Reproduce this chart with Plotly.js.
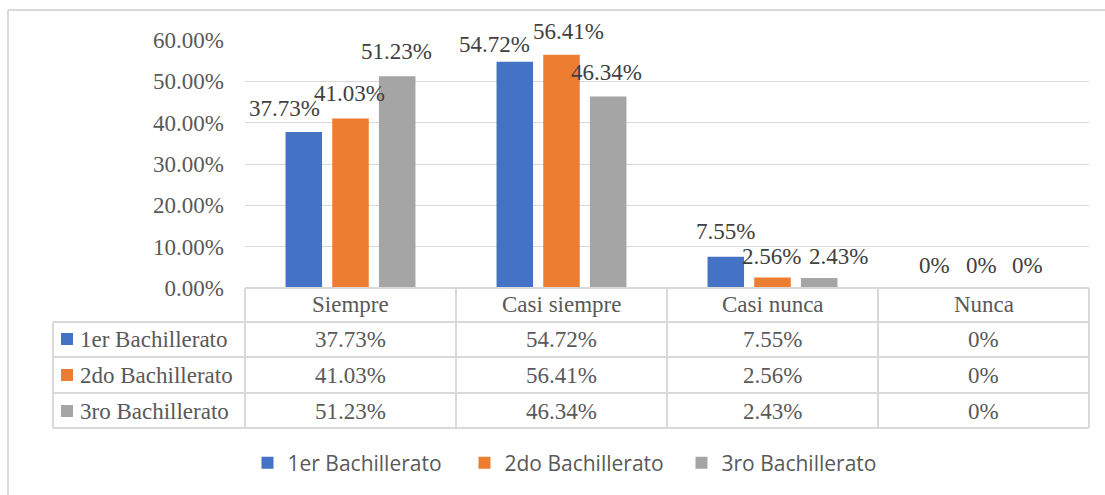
<!DOCTYPE html>
<html>
<head>
<meta charset="utf-8">
<script src="https://cdn.plot.ly/plotly-3.0.1.min.js"></script>
<style>
html,body{margin:0;padding:0;background:#fff;}
#chart{width:1105px;height:495px;}
</style>
</head>
<body>
<div id="chart"></div>
<script>
// ---- data ----
const categories = ["Siempre", "Casi siempre", "Casi nunca", "Nunca"];
const seriesNames = ["1er Bachillerato", "2do Bachillerato", "3ro Bachillerato"];
const primero = [0.3773, 0.5472, 0.0755, 0];
const segundo = [0.4103, 0.5641, 0.0256, 0];
const tercero = [0.5123, 0.4634, 0.0243, 0];
const yTickValues = [0, 0.1, 0.2, 0.3, 0.4, 0.5, 0.6];

// ---- styles ----
const colors = ["#4472C4", "#ED7D31", "#A5A5A5"];
const seriesValues = [primero, segundo, tercero];
const W = 1105, H = 495;
const L = 245, R = 1089, T = 40, B = 288;
const serif = "Liberation Serif";
const lineCol = "#D9D9D9";
// label offsets (px) to mimic Excel's label placement
const slotPx = 46.75;
const labelDx = [[-19, -20, 0, -2], [-1, 7, -1, -2], [-1, -2, 19, -3]];
const labelDy = [[24, 17, 25, 23], [25, 23, 21, 23], [25, 24, 21, 23]];

function px(x) { return (x - L) / (R - L); }
function py(y) { return (B - y) / (B - T); }
function fmt(v) { return v === 0 ? "0%" : (v * 100).toFixed(2) + "%"; }

const traces = seriesValues.map((vals, i) => ({
  type: "bar",
  name: seriesNames[i],
  x: categories,
  y: vals,
  marker: { color: colors[i] },
  hoverinfo: "skip"
}));

const annotations = [];
const shapes = [];

// data labels
seriesValues.forEach((vals, s) => {
  vals.forEach((v, c) => {
    annotations.push({
      x: categories[c], y: v, xref: "x", yref: "y",
      text: fmt(v), showarrow: false,
      xanchor: "center", yanchor: "middle",
      xshift: (s - 1) * slotPx + labelDx[s][c],
      yshift: labelDy[s][c],
      font: { family: serif, size: 23, color: "#404040" }
    });
  });
});

// table geometry (px)
const rowLines = [322, 357, 393, 428];
const rowCenters = [339, 375, 411];
const headerCenter = 304;
const tableLeft = 53;

// horizontal lines
shapes.push({ type: "line", xref: "paper", yref: "paper", x0: 0, x1: 1, y0: py(B), y1: py(B), line: { color: lineCol, width: 2 } });
rowLines.forEach(y => shapes.push({ type: "line", xref: "paper", yref: "paper", x0: px(tableLeft), x1: 1, y0: py(y), y1: py(y), line: { color: lineCol, width: 2 } }));
// vertical lines
for (let k = 0; k <= categories.length; k++) {
  const xp = k / categories.length;
  shapes.push({ type: "line", xref: "paper", yref: "paper", x0: xp, x1: xp, y0: py(B), y1: py(428), line: { color: lineCol, width: 2 } });
}
shapes.push({ type: "line", xref: "paper", yref: "paper", x0: px(tableLeft), x1: px(tableLeft), y0: py(322), y1: py(428), line: { color: lineCol, width: 2 } });

// header
categories.forEach((c, k) => {
  annotations.push({
    x: (k + 0.5) / categories.length, y: py(headerCenter), xref: "paper", yref: "paper",
    text: c, showarrow: false, xanchor: "center", yanchor: "middle",
    font: { family: serif, size: 23, color: "#595959" }
  });
});
// rows
seriesValues.forEach((vals, s) => {
  const yc = rowCenters[s];
  shapes.push({ type: "rect", xref: "paper", yref: "paper", x0: px(61), x1: px(73), y0: py(yc + 6), y1: py(yc - 6), fillcolor: colors[s], line: { width: 0 } });
  annotations.push({
    x: px(78), y: py(yc), xref: "paper", yref: "paper",
    text: seriesNames[s], showarrow: false, xanchor: "left", yanchor: "middle",
    font: { family: serif, size: 23, color: "#595959" }
  });
  vals.forEach((v, k) => {
    annotations.push({
      x: (k + 0.5) / categories.length, y: py(yc), xref: "paper", yref: "paper",
      text: fmt(v), showarrow: false, xanchor: "center", yanchor: "middle",
      font: { family: serif, size: 23, color: "#595959" }
    });
  });
});

// outer chart border (top and left)
shapes.push({ type: "line", xref: "paper", yref: "paper", x0: px(8), x1: px(1105), y0: py(10), y1: py(10), line: { color: lineCol, width: 2 } });
shapes.push({ type: "line", xref: "paper", yref: "paper", x0: px(8), x1: px(8), y0: py(10), y1: py(495), line: { color: lineCol, width: 2 } });

const layout = {
  width: W, height: H,
  margin: { l: L, r: W - R, t: T, b: H - B, pad: 0 },
  paper_bgcolor: "#fff", plot_bgcolor: "#fff",
  barmode: "group",
  bargap: 0.336,
  bargroupgap: 0.218,
  showlegend: true,
  legend: {
    orientation: "h",
    x: px(573), xanchor: "center",
    y: py(463), yanchor: "middle",
    font: { family: "Open Sans", size: 21, color: "#595959" },
    entrywidth: 172, entrywidthmode: "pixels",
    bgcolor: "rgba(0,0,0,0)"
  },
  xaxis: {
    type: "category",
    showticklabels: false,
    showgrid: false, zeroline: false, showline: false,
    ticks: ""
  },
  yaxis: {
    range: [0, 0.6],
    tickvals: yTickValues,
    tickformat: ".2%",
    showgrid: true, gridcolor: lineCol, gridwidth: 1,
    zeroline: false, showline: false, ticks: "",
    ticklabelstandoff: 20,
    tickfont: { family: serif, size: 23, color: "#595959" }
  },
  annotations: annotations,
  shapes: shapes
};

Plotly.newPlot("chart", traces, layout, { displayModeBar: false, staticPlot: true });
</script>
</body>
</html>
